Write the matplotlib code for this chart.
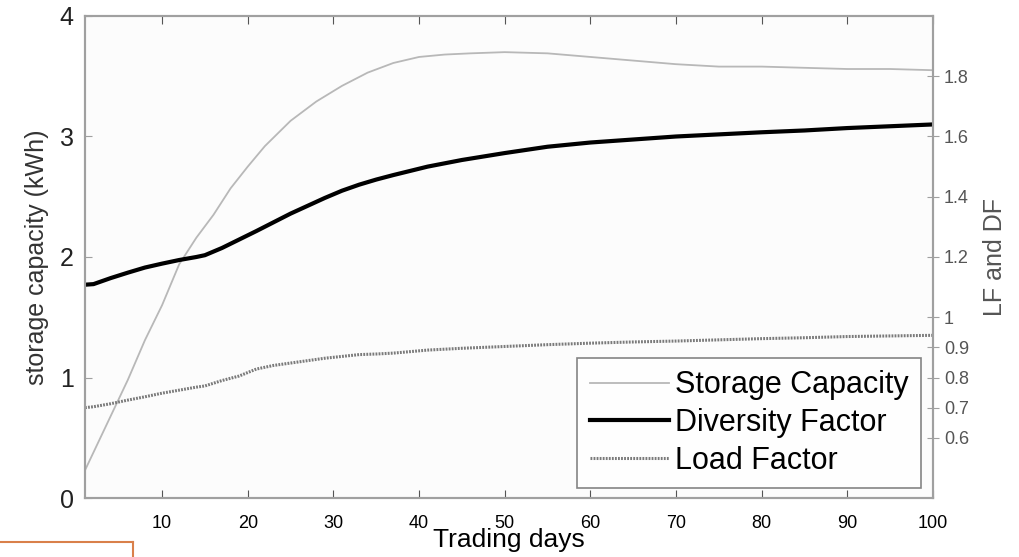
import numpy as np
import matplotlib.pyplot as plt
from matplotlib.lines import Line2D

plt.rcParams['font.family'] = ['Liberation Sans', 'DejaVu Sans']

# storage capacity (kWh), left axis
sc_days = [1, 2, 4, 6, 8, 10, 12, 14, 16, 18, 20, 22, 25, 28, 31, 34, 37, 40, 43,
           46, 50, 55, 60, 65, 70, 75, 80, 85, 90, 95, 100]
sc_vals = [0.23, 0.38, 0.68, 0.98, 1.31, 1.60, 1.94, 2.16, 2.35, 2.57, 2.75, 2.92,
           3.13, 3.29, 3.42, 3.53, 3.61, 3.66, 3.68, 3.69, 3.70, 3.69, 3.66, 3.63,
           3.60, 3.58, 3.58, 3.57, 3.56, 3.56, 3.55]

# diversity factor and load factor, right axis
f_days = [1, 2, 4, 6, 8, 10, 12, 14, 15, 17, 19, 21, 23, 25, 27, 29, 31, 33, 35, 37,
          41, 45, 50, 55, 60, 65, 70, 75, 80, 85, 90, 95, 100]
df_vals = [1.108, 1.110, 1.130, 1.148, 1.165, 1.178, 1.190, 1.200, 1.206, 1.230,
           1.258, 1.286, 1.315, 1.344, 1.370, 1.396, 1.420, 1.440, 1.457, 1.472,
           1.500, 1.522, 1.545, 1.566, 1.580, 1.590, 1.600, 1.607, 1.614, 1.620,
           1.628, 1.634, 1.640]
lf_vals = [0.700, 0.703, 0.713, 0.725, 0.736, 0.748, 0.758, 0.768, 0.772, 0.790,
           0.805, 0.828, 0.840, 0.848, 0.856, 0.864, 0.870, 0.876, 0.878, 0.881,
           0.891, 0.897, 0.903, 0.909, 0.914, 0.918, 0.921, 0.925, 0.929, 0.932,
           0.936, 0.938, 0.940]

right_ticks = [0.6, 0.7, 0.8, 0.9, 1, 1.2, 1.4, 1.6, 1.8]
right_labels = ['0.6', '0.7', '0.8', '0.9', '1', '1.2', '1.4', '1.6', '1.8']

fig = plt.figure(figsize=(10.19, 5.57), dpi=100)
ax = fig.add_axes([0.0834, 0.1059, 0.8322, 0.8654])
ax2 = ax.twinx()

ax.set_facecolor('#fcfcfc')
l1, = ax.plot(sc_days, sc_vals, color='#b8b8b8', lw=1.3)
l2, = ax2.plot(f_days, df_vals, color='black', lw=3)
l3, = ax2.plot(f_days, lf_vals, color='#7a7a7a', lw=2.2, ls=(0, (0.6, 0.4)))

ax.set_xlim(1, 100)
ax.set_ylim(0, 4)
ax2.set_ylim(0.4, 2.0)
ax.set_xticks(range(10, 101, 10))
ax.set_yticks([0, 1, 2, 3, 4])
ax2.set_yticks(right_ticks)
ax2.set_yticklabels(right_labels)

for a in (ax, ax2):
    for s in a.spines.values():
        s.set_color('#a0a0a0')
        s.set_linewidth(1.5)

ax.tick_params(axis='x', direction='in', length=6, color='#555555', top=True,
               labelsize=13, pad=12)
ax.tick_params(axis='y', direction='in', length=5, color='#a0a0a0', labelsize=18,
               pad=8, labelcolor='#222222')
ax2.tick_params(axis='y', direction='inout', length=8, color='#a0a0a0', labelsize=13,
                pad=4, labelcolor='#555555')

ax.set_xlabel('Trading days', fontsize=19, labelpad=-3)
ax.set_ylabel('storage capacity (kWh)', fontsize=18, labelpad=8, color='#333333')
ax2.set_ylabel('LF and DF', fontsize=18, labelpad=10, color='#555555')

leg = ax2.legend([l1, l2, l3], ['Storage Capacity', 'Diversity Factor', 'Load Factor'],
                 loc='lower right', bbox_to_anchor=(0.986, 0.021), fontsize=22,
                 frameon=True, fancybox=False, handlelength=2.6, handletextpad=0.2,
                 borderpad=0.4, labelspacing=0.25, borderaxespad=0)
leg.get_frame().set_edgecolor('#666666')
leg.get_frame().set_linewidth(1.2)

# orange frame fragment at bottom-left
fig.add_artist(Line2D([0, 133 / 1019], [1 - 542 / 557, 1 - 542 / 557],
                      color='#d9804a', lw=1.5, transform=fig.transFigure))
fig.add_artist(Line2D([133 / 1019, 133 / 1019], [1 - 542 / 557, 0],
                      color='#d9804a', lw=1.5, transform=fig.transFigure))

fig.savefig('out.png', dpi=100)
